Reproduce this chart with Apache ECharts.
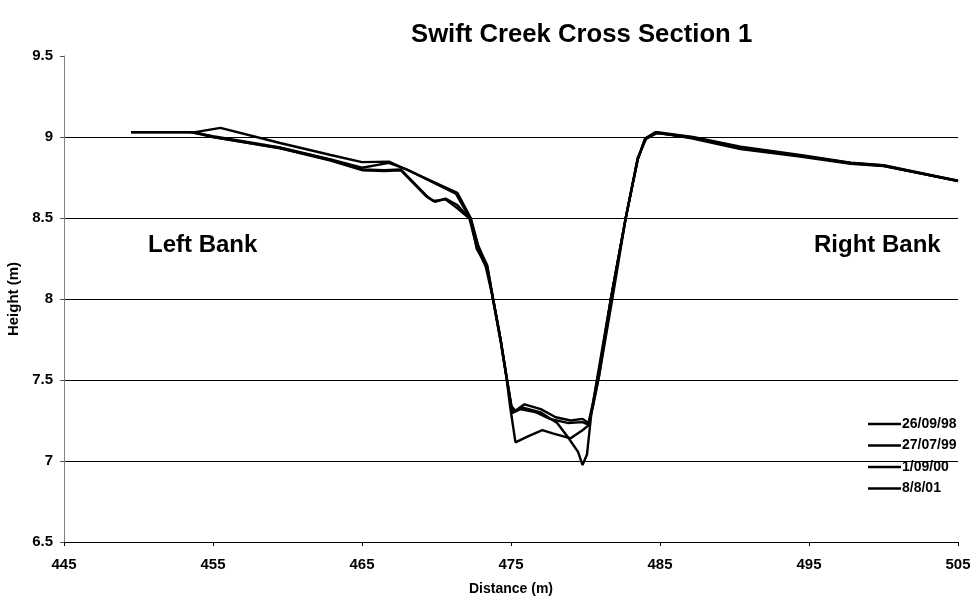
<!DOCTYPE html>
<html>
<head>
<meta charset="utf-8">
<title>Swift Creek Cross Section 1</title>
<script src="https://cdn.jsdelivr.net/npm/echarts@6/dist/echarts.min.js"></script>
<style>
  html, body { margin: 0; padding: 0; background: #fff; }
  #chart { width: 977px; height: 602px; }
</style>
</head>
<body>
<div id="chart"></div>
<script>
// Surveyed cross-section profiles: distance along the section (m) and bed height (m)
const surveyDates = ['26/09/98', '27/07/99', '1/09/00', '8/8/01'];

const distance98 = [449.5, 453.8, 455.5, 459.5, 462.9, 465.0, 466.8, 468.2, 471.4, 472.3, 472.8, 473.4, 473.8, 474.3, 474.7, 475.0, 475.3, 475.9, 477.0, 478.0, 479.0, 479.8, 480.2, 480.5, 480.9, 481.7, 482.7, 483.5, 484.0, 484.8, 487.2, 490.4, 494.4, 497.8, 500.0, 505.0];
const height98   = [9.03, 9.03, 9.056, 8.963, 8.889, 8.845, 8.848, 8.79, 8.655, 8.50, 8.33, 8.20, 8.00, 7.75, 7.52, 7.34, 7.31, 7.35, 7.32, 7.27, 7.25, 7.26, 7.235, 7.36, 7.55, 8.0, 8.5, 8.86, 8.99, 9.03, 9.0, 8.94, 8.89, 8.842, 8.826, 8.73];

const distance99 = [449.5, 453.5, 455.0, 459.5, 462.9, 465.0, 466.5, 467.6, 469.4, 469.9, 470.6, 471.4, 472.2, 472.7, 473.3, 473.8, 474.3, 474.7, 475.1, 475.8, 477.0, 478.1, 478.8, 479.5, 479.8, 480.1, 480.4, 480.8, 481.7, 482.7, 483.5, 484.0, 484.7, 487.2, 490.4, 494.4, 497.8, 500.0, 505.0];
const height99   = [9.03, 9.03, 9.0, 8.932, 8.858, 8.80, 8.795, 8.80, 8.63, 8.60, 8.62, 8.58, 8.50, 8.32, 8.20, 8.0, 7.75, 7.52, 7.30, 7.33, 7.30, 7.235, 7.15, 7.056, 6.975, 7.04, 7.30, 7.52, 8.0, 8.5, 8.86, 8.99, 9.03, 8.99, 8.925, 8.88, 8.835, 8.82, 8.73];

const distance00 = [449.5, 453.5, 455.0, 459.5, 462.9, 465.0, 466.8, 468.0, 471.3, 472.3, 472.7, 473.4, 473.8, 474.3, 474.7, 474.95, 475.3, 476.1, 477.1, 477.8, 479.0, 479.8, 480.2, 480.5, 480.9, 481.8, 482.7, 483.5, 484.1, 484.8, 487.2, 490.4, 494.4, 497.8, 500.0, 505.0];
const height00   = [9.03, 9.03, 9.005, 8.935, 8.862, 8.81, 8.84, 8.80, 8.65, 8.49, 8.31, 8.20, 7.99, 7.74, 7.51, 7.33, 7.115, 7.15, 7.19, 7.17, 7.14, 7.19, 7.22, 7.34, 7.52, 8.0, 8.5, 8.87, 8.995, 9.025, 8.995, 8.93, 8.885, 8.838, 8.822, 8.728];

const distance01 = [449.5, 453.8, 455.0, 459.5, 462.9, 465.0, 466.5, 467.6, 469.3, 469.8, 470.6, 471.4, 472.3, 472.8, 473.4, 473.8, 474.3, 474.7, 475.1, 475.6, 476.7, 477.6, 478.8, 479.8, 480.2, 480.5, 480.9, 481.7, 482.7, 483.5, 484.0, 484.8, 487.2, 490.4, 494.4, 497.8, 500.0, 505.0];
const height01   = [9.03, 9.03, 9.0, 8.93, 8.855, 8.795, 8.79, 8.795, 8.635, 8.605, 8.615, 8.56, 8.49, 8.32, 8.21, 8.0, 7.75, 7.52, 7.296, 7.32, 7.30, 7.26, 7.235, 7.24, 7.225, 7.34, 7.52, 8.0, 8.5, 8.86, 8.985, 9.025, 8.998, 8.935, 8.885, 8.84, 8.824, 8.728];

// Axis tick labels
const distanceTicks = [445, 455, 465, 475, 485, 495, 505];
const heightTicks = [6.5, 7, 7.5, 8, 8.5, 9, 9.5];

const profiles = [
  [distance98, height98],
  [distance99, height99],
  [distance00, height00],
  [distance01, height01]
];

const FONT = 'Liberation Sans, Arial, sans-serif';

const chart = echarts.init(document.getElementById('chart'), null, { renderer: 'canvas' });

const series = profiles.map(([xs, ys], i) => ({
  name: surveyDates[i],
  type: 'line',
  data: xs.map((x, j) => [x, ys[j]]),
  symbol: 'none',
  smooth: false,
  lineStyle: { color: '#000', width: 2.4 },
  itemStyle: { color: '#000' },
  emphasis: { disabled: true },
  z: 3
}));

chart.setOption({
  animation: false,
  backgroundColor: '#fff',
  title: {
    text: 'Swift Creek Cross Section 1',
    left: 406,
    top: 17,
    textStyle: { fontFamily: FONT, fontSize: 25.7, fontWeight: 'bold', color: '#000' }
  },
  grid: { left: 64, right: 19, top: 56, bottom: 60, containLabel: false, outerBoundsMode: 'none' },
  legend: {
    orient: 'vertical',
    left: 863,
    top: 412,
    itemWidth: 33,
    itemHeight: 14,
    itemGap: 7.5,
    icon: 'path://M0,6 L33,6 L33,8.5 L0,8.5 Z',
    textStyle: { fontFamily: FONT, fontSize: 14, fontWeight: 'bold', color: '#000', padding: [0, 0, 0, -4] },
    itemStyle: { color: '#000' },
    data: surveyDates
  },
  xAxis: {
    type: 'value',
    min: distanceTicks[0],
    max: distanceTicks[distanceTicks.length - 1],
    name: 'Distance (m)',
    nameLocation: 'middle',
    nameGap: 40,
    nameTextStyle: { fontFamily: FONT, fontSize: 14, fontWeight: 'bold', color: '#000' },
    axisLine: { show: true, lineStyle: { color: '#000', width: 1 } },
    axisTick: { show: true, length: 4, customValues: distanceTicks, lineStyle: { color: '#000' } },
    axisLabel: {
      customValues: distanceTicks,
      margin: 15,
      fontFamily: FONT, fontSize: 15, fontWeight: 'bold', color: '#000'
    },
    splitLine: { show: false }
  },
  yAxis: {
    type: 'value',
    min: heightTicks[0],
    max: heightTicks[heightTicks.length - 1],
    interval: 0.5,
    name: 'Height (m)',
    nameLocation: 'middle',
    nameGap: 40,
    nameTextStyle: { fontFamily: FONT, fontSize: 15, fontWeight: 'bold', color: '#000' },
    axisLine: { show: true, lineStyle: { color: '#808080', width: 1 } },
    axisTick: { show: true, length: 4, lineStyle: { color: '#555' } },
    axisLabel: {
      margin: 11,
      fontFamily: FONT, fontSize: 15, fontWeight: 'bold', color: '#000',
      formatter: v => String(v)
    },
    splitLine: {
      show: true,
      showMinLine: false,
      showMaxLine: false,
      lineStyle: { color: '#000', width: 1 }
    }
  },
  graphic: [
    {
      type: 'text', left: 148, top: 233,
      style: { text: 'Left Bank', fontFamily: FONT, fontSize: 24, fontWeight: 'bold', fill: '#000' }
    },
    {
      type: 'text', left: 814, top: 233,
      style: { text: 'Right Bank', fontFamily: FONT, fontSize: 24, fontWeight: 'bold', fill: '#000' }
    }
  ],
  series: series
});
</script>
</body>
</html>
